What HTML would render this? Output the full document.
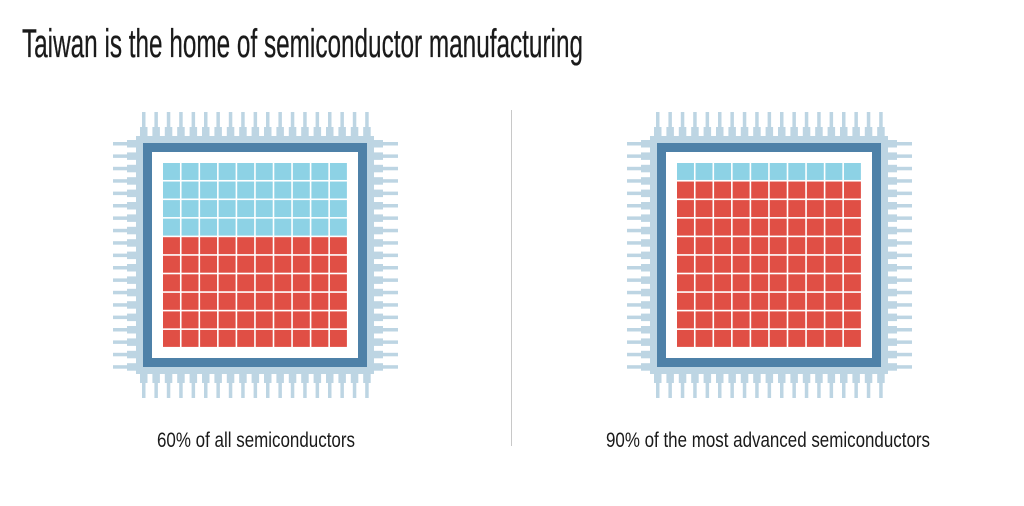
<!DOCTYPE html>
<html><head><meta charset="utf-8"><style>
html,body{margin:0;padding:0;background:#fff;width:1024px;height:506px;overflow:hidden}
svg text{font-family:"Liberation Sans Narrow","Liberation Sans",sans-serif;fill:#1a1a1a}
</style></head><body>
<svg width="1024" height="506" viewBox="0 0 1024 506" xmlns="http://www.w3.org/2000/svg">
<text x="22" y="57" font-size="40" textLength="561" lengthAdjust="spacingAndGlyphs" stroke="#1a1a1a" stroke-width="0.3">Taiwan is the home of semiconductor manufacturing</text>
<line x1="511.5" y1="110" x2="511.5" y2="446" stroke="#c8c8c8" stroke-width="1"/>
<text x="157" y="447" font-size="21" textLength="198" lengthAdjust="spacingAndGlyphs">60% of all semiconductors</text>
<text x="606" y="447" font-size="21" textLength="324" lengthAdjust="spacingAndGlyphs">90% of the most advanced semiconductors</text>
<g id="chips"></g>
</svg>
<script>
(function(){
var ns="http://www.w3.org/2000/svg",g=document.getElementById("chips");
function r(x,y,w,h,c){var e=document.createElementNS(ns,"rect");e.setAttribute("x",x);e.setAttribute("y",y);e.setAttribute("width",w);e.setAttribute("height",h);e.setAttribute("fill",c);g.appendChild(e);}
function chip(ox,blueRows){
 var L="#bdd5e3";
 for(var i=0;i<19;i++){
  var p=ox+142+i*12.4;
  r(p,112,3.5,18,L); r(p-2,127,7.5,11,L);
  r(p,372,3.5,26,L); r(p-2,372,7.5,11,L);
 }
 for(var i=0;i<19;i++){
  var p=142+i*12.4;
  r(ox+113,p,26,3.5,L); r(ox+127,p-2,11,7.5,L);
  r(ox+372,p,26,3.5,L); r(ox+372,p-2,11,7.5,L);
 }
 r(ox+136,136,238,238,L);
 r(ox+143,143,224,224,"#4e81a8");
 r(ox+152,152,206,206,"#fff");
 var s=18.55;
 for(var row=0;row<10;row++)for(var c=0;c<10;c++){
  r(ox+163+c*s,163+row*s,s-1.6,s-1.6,row<blueRows?"#8dd2e5":"#e04f45");
 }
}
chip(0,4);chip(514,1);
})();
</script>
</body></html>
